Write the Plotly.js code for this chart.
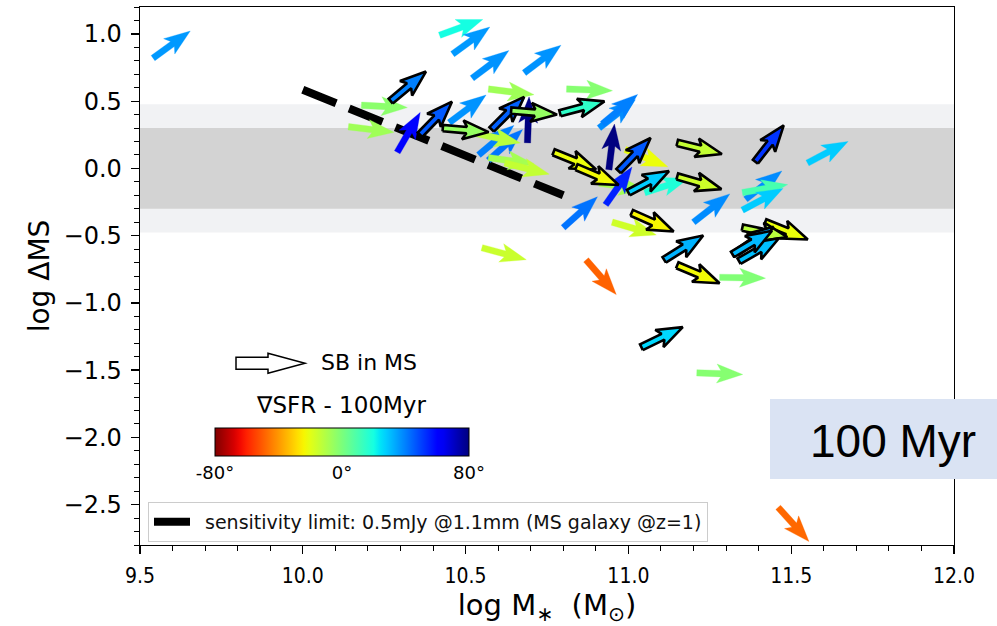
<!DOCTYPE html>
<html><head><meta charset="utf-8">
<script src="https://cdn.plot.ly/plotly-3.0.1.min.js"></script>
<style>html,body{margin:0;padding:0;background:#fff}</style>
</head><body><div id="chart" style="width:997px;height:626px"></div>
<script>
// ---------------- DATA ----------------
const arrowX = [9.54,10.42,10.46,10.52,10.68,10.27,10.18,10.14,10.29,10.36,10.45,10.43,10.57,10.58,10.64,10.69,10.54,10.57,10.53,10.57,10.62,10.79,10.81,10.91,10.92,10.94,10.97,10.99,10.77,10.84,11.00,11.05,10.91,10.93,10.80,11.15,11.39,11.55,11.15,11.36,11.35,11.35,11.20,11.01,10.95,11.11,11.15,11.28,10.87,11.42,11.35,11.33,11.34,11.32,10.55,11.21,11.04,11.46];
const arrowY = [0.82,0.99,0.85,0.67,0.71,0.50,0.47,0.31,0.12,0.25,0.34,0.30,0.59,0.29,0.43,0.19,0.10,0.06,0.26,0.08,0.04,0.41,0.59,0.30,0.33,-0.01,-0.02,0.14,0.12,0.01,-0.18,-0.18,-0.11,-0.27,-0.44,0.19,0.05,0.04,-0.06,-0.23,-0.18,-0.31,-0.40,-0.33,-0.40,-0.68,-0.72,-0.81,-0.68,-0.40,-0.44,-0.63,-0.69,-0.64,-0.59,-1.52,-1.33,-2.52];
// angle of the SFR gradient (degrees)
const arrowAngle = [36,20,36,37,37,40,-3,-7,60,46,37,-5,-7,45,-5,88,40,42,-12,-8,-14,15,-2,38,40,83,46,-22,-22,-23,28,18,-8,55,42,-14,52,28,-16,38,10,28,38,-24,-16,32,-23,-1,-49,-22,-12,35,30,31,-15,-2,26,-48];
// 1 = starburst inside the main sequence (outlined arrow)
const arrowSB = [0,0,0,0,0,1,0,0,0,1,0,1,0,1,1,0,0,0,0,0,0,1,0,0,0,0,1,0,1,1,1,0,0,0,0,1,1,0,1,0,0,0,0,1,0,1,1,0,0,1,1,1,1,1,0,0,1,0];
const sensX = [10.0, 10.8];
const sensY = [0.585, -0.2];
const sensName = 'sensitivity limit: 0.5mJy @1.1mm (MS galaxy @z=1)';
const msInner = 0.3, msOuter = 0.477;
const cbarMin = -80, cbarMax = 80;
const cbarTicks = [-80, 0, 80];
const cbarTickText = ['-80°', '0°', '80°'];
const xRange = [9.5, 12.0], yRange = [-2.8, 1.2];
const yTickVals = [-2.5, -2.0, -1.5, -1.0, -0.5, 0.0, 0.5, 1.0];
const yTickText = ['−2.5', '−2.0', '−1.5', '−1.0', '−0.5', '0.0', '0.5', '1.0'];

// ---------------- LAYOUT GEOMETRY ----------------
const W = 997, H = 626, M = {l:140, r:43, t:7, b:81, pad:0};
const plotW = W - M.l - M.r, plotH = H - M.t - M.b;
const sx = plotW / (xRange[1]-xRange[0]);
const sy = plotH / (yRange[1]-yRange[0]);
const px2paperX = p => (p - M.l) / plotW;
const px2paperY = p => (H - M.b - p) / plotH;

// matplotlib jet
const JR=[[0,0],[0.35,0],[0.66,1],[0.89,1],[1,0.5]];
const JG=[[0,0],[0.125,0],[0.375,1],[0.64,1],[0.91,0],[1,0]];
const JB=[[0,0.5],[0.11,1],[0.34,1],[0.65,0],[1,0]];
function seg(s, t){ for(let i=1;i<s.length;i++){ if(t<=s[i][0]){ const a=s[i-1],b=s[i]; return a[1]+(b[1]-a[1])*(t-a[0])/(b[0]-a[0]); } } return s[s.length-1][1]; }
function jet(t){ t=Math.max(0,Math.min(1,t)); return 'rgb('+Math.round(255*seg(JR,t))+','+Math.round(255*seg(JG,t))+','+Math.round(255*seg(JB,t))+')'; }
function angColor(a){ return jet((cbarMax - a)/(cbarMax-cbarMin)); }
const colorscale = [];
for(let i=0;i<=40;i++){ const f=i/40; colorscale.push([f, jet(1-f)]); }

function arrowPoly(x0,y0,ang){
  const a=ang*Math.PI/180, c=Math.cos(a), s=Math.sin(a);
  const L=46, hl=26, hal=22, hw=9.5, sw=3.2;
  const pts=[[0,-sw],[L-hal,-sw],[L-hl,-hw],[L,0],[L-hl,hw],[L-hal,sw],[0,sw],[0,-sw]];
  const xs=[], ys=[];
  pts.forEach(p=>{ const dx=p[0]*c-p[1]*s, dy=p[0]*s+p[1]*c; xs.push(x0+dx/sx); ys.push(y0+dy/sy); });
  return {xs, ys};
}

const traces = [];
traces.push({type:'scatter', mode:'lines', x:sensX, y:sensY, name:sensName,
  line:{color:'black', width:8, dash:'36px,14px'}, hoverinfo:'skip', showlegend:true});

[0,1].forEach(flag=>{
  for(let i=0;i<arrowX.length;i++){
    if(arrowSB[i]!==flag) continue;
    const p = arrowPoly(arrowX[i], arrowY[i], arrowAngle[i]);
    const col = angColor(arrowAngle[i]);
    traces.push({type:'scatter', mode:'lines', x:p.xs, y:p.ys, fill:'toself', fillcolor:col,
      line:{color: flag ? 'black' : col, width: flag ? 2.6 : 0.3}, hoverinfo:'skip', showlegend:false});
  }
});

traces.push({type:'scatter', mode:'markers', x:arrowX, y:arrowY, hoverinfo:'skip', showlegend:false,
  marker:{color:arrowAngle, colorscale:colorscale, cmin:cbarMin, cmax:cbarMax, opacity:0, size:1, showscale:true,
    colorbar:{orientation:'h', x:px2paperX(342), xanchor:'center', y:px2paperY(428), yanchor:'top',
      len:254, lenmode:'pixels', thickness:28, thicknessmode:'pixels', outlinecolor:'black', outlinewidth:1,
      tickvals:cbarTicks, ticktext:cbarTickText, ticks:'', xpad:0, ypad:0,
      tickfont:{family:'DejaVu Sans', size:18, color:'black'}}}});

// SB legend glyph (open arrow)
const g = {tail:236, tip:305, cy:363.3, shw:6, hhw:10, base:268};
const gp = [[g.tail,g.cy-g.shw],[g.base,g.cy-g.shw],[g.base,g.cy-g.hhw],[g.tip,g.cy],[g.base,g.cy+g.hhw],[g.base,g.cy+g.shw],[g.tail,g.cy+g.shw]];
const gpath = 'M' + gp.map(p=>px2paperX(p[0]).toFixed(5)+','+px2paperY(p[1]).toFixed(5)).join(' L') + ' Z';

const layout = {
  width:W, height:H, margin:M, paper_bgcolor:'white', plot_bgcolor:'white',
  font:{family:'DejaVu Sans', color:'black', size:22},
  showlegend:true,
  legend:{x:px2paperX(148), xanchor:'left', y:px2paperY(502), yanchor:'top', bgcolor:'rgba(255,255,255,0.8)',
    bordercolor:'#cccccc', borderwidth:1, itemwidth:46, font:{family:'DejaVu Sans', size:19, color:'#111'}},
  xaxis:{range:xRange, dtick:0.5, tickformat:'.1f', ticks:'outside', ticklen:8, tickwidth:1.3, tickcolor:'black',
    showline:true, linecolor:'black', linewidth:1.3, mirror:true, showgrid:false, zeroline:false, ticklabelstandoff:3,
    minor:{dtick:0.1, ticks:'outside', ticklen:5, tickwidth:1, tickcolor:'black'},
    tickfont:{family:'DejaVu Sans Condensed, DejaVu Sans', size:21, color:'black'},
    title:{text:'log M<sub>∗</sub>\u00a0\u00a0(M<sub>⊙</sub>)\u00a0\u00a0', standoff:13, font:{family:'DejaVu Sans', size:29, color:'black'}}},
  yaxis:{range:yRange, tickmode:'array', tickvals:yTickVals, ticktext:yTickText, ticks:'outside', ticklen:8, tickwidth:1.3, tickcolor:'black',
    showline:true, linecolor:'black', linewidth:1.3, mirror:true, showgrid:false, zeroline:false, ticklabelstandoff:4,
    minor:{dtick:0.1, ticks:'outside', ticklen:5, tickwidth:1, tickcolor:'black'},
    tickfont:{family:'DejaVu Sans', size:24, color:'black'},
    title:{text:'log ΔMS\u00a0\u00a0\u00a0\u00a0\u00a0\u00a0', standoff:5, font:{family:'DejaVu Sans', size:28, color:'black'}}},
  shapes:[
    {type:'rect', xref:'paper', yref:'y', x0:0, x1:1, y0:-msOuter, y1:msOuter, fillcolor:'#f1f2f4', line:{width:0}, layer:'below'},
    {type:'rect', xref:'paper', yref:'y', x0:0, x1:1, y0:-msInner, y1:msInner, fillcolor:'#d3d3d3', line:{width:0}, layer:'below'},
    {type:'rect', xref:'paper', yref:'paper', x0:px2paperX(770), x1:px2paperX(1000), y0:px2paperY(479), y1:px2paperY(399), fillcolor:'#dae3f3', line:{width:0}, layer:'above'},
    {type:'path', xref:'paper', yref:'paper', path:gpath, fillcolor:'white', line:{color:'black', width:1.5}, layer:'above'}
  ],
  annotations:[
    {xref:'paper', yref:'paper', x:px2paperX(341), y:px2paperY(405), text:'∇SFR - 100Myr', showarrow:false, xanchor:'center', yanchor:'middle', font:{family:'DejaVu Sans', size:23, color:'black'}},
    {xref:'paper', yref:'paper', x:px2paperX(319), y:px2paperY(362), text:'SB in MS', showarrow:false, xanchor:'left', yanchor:'middle', font:{family:'DejaVu Sans', size:22, color:'black'}},
    {xref:'paper', yref:'paper', x:px2paperX(893), y:px2paperY(441), text:'100 Myr', showarrow:false, xanchor:'center', yanchor:'middle', font:{family:'Liberation Sans, Arial', size:46, color:'black'}}
  ]
};
Plotly.newPlot('chart', traces, layout, {displayModeBar:false, staticPlot:true});
</script></body></html>
